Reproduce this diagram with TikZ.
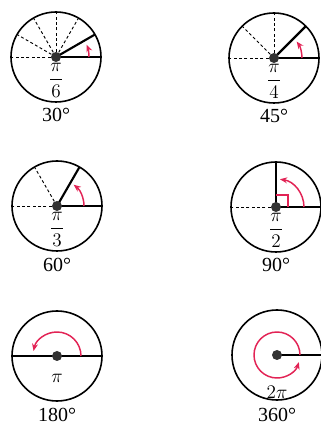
\documentclass[tikz,border=0pt]{standalone}
\usepackage{amsmath}
\usepackage{fontspec}
\setmainfont{Liberation Serif}
\usepackage{tikz}
\usetikzlibrary{arrows.meta}
\definecolor{TurnRed}{RGB}{226,35,85}
\def\rr{45}
\tikzset{
  rim/.style={draw=black, line width=1.2pt},
  ray/.style={draw=black, line width=1.6pt},
  guide/.style={draw=black, line width=0.7pt, dash pattern=on 2.2pt off 1.8pt},
  turn/.style={draw=TurnRed, line width=1.1pt, -{Stealth[length=5.5pt,width=4.5pt]}},
  hub/.style={circle, fill=black!80, inner sep=0pt, minimum size=7.5pt},
  radlabel/.style={font=\fontsize{15}{17}\selectfont, inner sep=0pt},
  fraclabel/.style={radlabel, anchor=north},
  deglabel/.style={font=\fontsize{15}{17}\selectfont, inner sep=0pt},
}

\begin{document}
\begin{tikzpicture}[x=0.75pt, y=0.75pt]
  \useasboundingbox (0,0) rectangle (321,425);

  % circle centres
  \coordinate (c30) at (56,368);
  \coordinate (c45) at (274,367);
  \coordinate (c60) at (57,219);
  \coordinate (c90) at (276,218);
  \coordinate (c180) at (57,69);
  \coordinate (c360) at (277,70);

  % 30 degrees
  \draw[rim] (c30) circle (\rr);
  \foreach \a in {60,90,...,180}
    \draw[guide] (c30) -- ++(\a:\rr);
  \draw[ray] (c30) -- ++(0:\rr);
  \draw[ray] (c30) -- ++(30:\rr);
  \draw[turn] (c30) ++(0:33) arc[start angle=0, end angle=22, radius=33];
  \node[hub] (h30) at (c30) {};
  \node[fraclabel] (f30) at (56,362) {$\dfrac{\pi}{6}$};
  \node[deglabel] (d30) at (56,310) {30°};

  % 45 degrees
  \draw[rim] (c45) circle (\rr);
  \foreach \a in {90,135,180}
    \draw[guide] (c45) -- ++(\a:\rr);
  \draw[ray] (c45) -- ++(0:\rr);
  \draw[ray] (c45) -- ++(45:\rr);
  \draw[turn] (c45) ++(0:28) arc[start angle=0, end angle=36, radius=28];
  \node[hub] (h45) at (c45) {};
  \node[fraclabel] (f45) at (274,361) {$\dfrac{\pi}{4}$};
  \node[deglabel] (d45) at (274,309) {45°};

  % 60 degrees
  \draw[rim] (c60) circle (\rr);
  \foreach \a in {120,180}
    \draw[guide] (c60) -- ++(\a:\rr);
  \draw[ray] (c60) -- ++(0:\rr);
  \draw[ray] (c60) -- ++(60:\rr);
  \draw[turn] (c60) ++(0:27) arc[start angle=0, end angle=52, radius=27];
  \node[hub] (h60) at (c60) {};
  \node[fraclabel] (f60) at (57,213) {$\dfrac{\pi}{3}$};
  \node[deglabel] (d60) at (57,160) {60°};

  % 90 degrees
  \draw[rim] (c90) circle (\rr);
  \draw[guide] (c90) -- ++(180:\rr);
  \draw[ray] (c90) -- ++(0:\rr);
  \draw[ray] (c90) -- ++(90:\rr);
  \draw[TurnRed, line width=0.9pt] (c90) ++(12,0) |- ++(-12,12);
  \draw[turn] (c90) ++(0:28) arc[start angle=0, end angle=82, radius=28];
  \node[hub] (h90) at (c90) {};
  \node[fraclabel] (f90) at (276,212) {$\dfrac{\pi}{2}$};
  \node[deglabel] (d90) at (276,160) {90°};

  % 180 degrees
  \draw[rim] (c180) circle (\rr);
  \draw[ray] (c180) ++(180:\rr) -- ++(2*\rr,0);
  \draw[turn] (c180) ++(0:24) arc[start angle=0, end angle=168, radius=24];
  \node[hub] (h180) at (c180) {};
  \node[radlabel] (f180) at (57,47) {$\pi$};
  \node[deglabel] (d180) at (57,10) {180°};

  % 360 degrees
  \draw[rim] (c360) circle (\rr);
  \draw[ray] (c360) -- ++(0:\rr);
  \draw[turn] (c360) ++(0:23) arc[start angle=0, end angle=342, radius=23];
  \node[hub] (h360) at (c360) {};
  \node[radlabel] (f360) at (277,33) {$2\pi$};
  \node[deglabel] (d360) at (277,10) {360°};
\end{tikzpicture}
\end{document}
